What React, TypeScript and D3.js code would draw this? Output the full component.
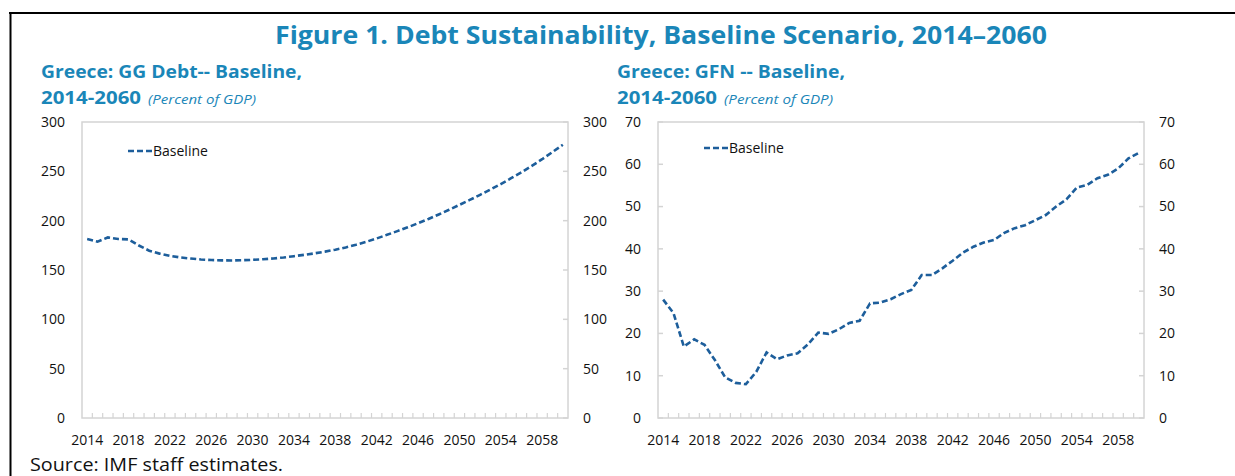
import React from 'react';
import * as d3 from 'd3';

// ---------- data ----------
const years: number[] = [
  2014, 2015, 2016, 2017, 2018, 2019, 2020, 2021, 2022, 2023,
  2024, 2025, 2026, 2027, 2028, 2029, 2030, 2031, 2032, 2033,
  2034, 2035, 2036, 2037, 2038, 2039, 2040, 2041, 2042, 2043,
  2044, 2045, 2046, 2047, 2048, 2049, 2050, 2051, 2052, 2053,
  2054, 2055, 2056, 2057, 2058, 2059, 2060,
];

// Greece: GG Debt -- Baseline (percent of GDP)
const ggDebt: number[] = [
  181.4, 178.8, 183.0, 181.4, 181.0, 174.8, 169.6, 166.6, 164.4, 162.7,
  161.6, 160.7, 160.1, 159.8, 159.7, 159.9, 160.3, 160.9, 161.7, 162.7,
  164.0, 165.4, 166.9, 168.6, 170.6, 172.9, 175.6, 178.6, 182.0, 185.7,
  189.4, 193.3, 197.4, 201.7, 206.3, 211.1, 216.0, 221.0, 226.2, 231.6,
  237.1, 243.0, 249.0, 255.5, 262.3, 269.5, 277.0,
];

// Greece: GFN -- Baseline (percent of GDP)
const gfn: number[] = [
  28.0, 24.8, 16.9, 18.6, 17.3, 13.7, 9.6, 8.3, 8.0, 10.9,
  15.5, 13.9, 14.8, 15.3, 17.4, 20.2, 19.9, 21.0, 22.5, 23.0,
  27.1, 27.3, 28.1, 29.3, 30.3, 33.8, 33.8, 35.4, 37.2, 39.1,
  40.5, 41.5, 42.1, 43.8, 44.9, 45.6, 46.8, 48.0, 50.0, 51.7,
  54.5, 55.1, 56.7, 57.5, 59.0, 61.4, 62.7,
];

const xTickLabels: string[] = [
  '2014', '2018', '2022', '2026', '2030', '2034', '2038', '2042', '2046', '2050', '2054', '2058',
];
const debtTicks: number[] = [0, 50, 100, 150, 200, 250, 300];
const gfnTicks: number[] = [0, 10, 20, 30, 40, 50, 60, 70];

// ---------- styles ----------
const BLUE = '#1a86b8';
const LINE = '#1d5e9b';
const FRAME = '#d4d4d4';
const TXT = '#111';
const FONT = "'Open Sans', 'Noto Sans', sans-serif";
const TICK_FS = 14;

type PanelProps = {
  x0: number;
  x1: number;
  values: number[];
  ticks: number[];
  yMax: number;
  leftMarks: boolean;
  rightMarks: boolean;
  legendX: number;
  legendY: number;
};

const TOP = 122;
const BOTTOM = 418;

function Panel({ x0, x1, values, ticks, yMax, leftMarks, rightMarks, legendX, legendY }: PanelProps) {
  const x = d3.scaleBand<string>().domain(years.map(String)).range([x0, x1]).padding(0);
  const y = d3.scaleLinear().domain([0, yMax]).range([BOTTOM, TOP]);
  const bw = x.bandwidth();
  const line = d3
    .line<number>()
    .x((_, i) => (x(String(years[i])) as number) + bw / 2)
    .y((d) => y(d));

  return (
    <g>
      {/* plot frame */}
      <rect x={x0} y={TOP} width={x1 - x0} height={BOTTOM - TOP} fill="none" stroke={FRAME} strokeWidth={1.5} />
      {/* y tick marks */}
      {ticks.map((t) => (
        <g key={'ym' + t}>
          {leftMarks && <line x1={x0} x2={x0 + 5} y1={y(t)} y2={y(t)} stroke={FRAME} strokeWidth={1.5} />}
          {rightMarks && <line x1={x1 - 5} x2={x1} y1={y(t)} y2={y(t)} stroke={FRAME} strokeWidth={1.5} />}
        </g>
      ))}
      {/* x tick marks at band boundaries */}
      {years.slice(1).map((yr) => {
        const xx = x(String(yr)) as number;
        return <line key={'xm' + yr} x1={xx} x2={xx} y1={BOTTOM} y2={BOTTOM - 5} stroke={FRAME} strokeWidth={1.2} />;
      })}
      {/* y labels left */}
      {ticks.map((t) => (
        <text key={'yl' + t} x={x0 - 17} y={y(t)} dy="0.35em" textAnchor="end" fontSize={TICK_FS} fill={TXT} fontFamily={FONT}>
          {t}
        </text>
      ))}
      {/* y labels right */}
      {ticks.map((t) => (
        <text key={'yr' + t} x={x1 + 15} y={y(t)} dy="0.35em" textAnchor="start" fontSize={TICK_FS} fill={TXT} fontFamily={FONT}>
          {t}
        </text>
      ))}
      {/* x labels */}
      {xTickLabels.map((lab) => (
        <text key={'xl' + lab} x={(x(lab) as number) + bw / 2} y={440} dy="0.35em" textAnchor="middle" fontSize={TICK_FS} fill={TXT} fontFamily={FONT}>
          {lab}
        </text>
      ))}
      {/* series */}
      <path d={line(values) || ''} fill="none" stroke={LINE} strokeWidth={2.6} strokeDasharray="6 3" />
      {/* legend */}
      <line x1={legendX} x2={legendX + 24} y1={legendY} y2={legendY} stroke={LINE} strokeWidth={2.6} strokeDasharray="6 3" />
      <text x={legendX + 25} y={legendY} dy="0.35em" fontSize={TICK_FS} fill={TXT} fontFamily={FONT}>
        Baseline
      </text>
    </g>
  );
}

export default function App() {
  return (
    <svg
      width={1235}
      height={476}
      viewBox="0 0 1235 476"
      style={{ position: 'absolute', left: 0, top: 0, background: '#fff' }}
    >
      <rect x={0} y={0} width={1235} height={476} fill="#fff" />
      {/* outer frame */}
      <line x1={9} x2={1235} y1={13} y2={13} stroke="#000" strokeWidth={2} />
      <line x1={10.5} x2={10.5} y1={12} y2={476} stroke="#000" strokeWidth={2} />

      {/* main title */}
      <text x={275} y={44} fontSize={25} fontWeight="bold" fill={BLUE} fontFamily={FONT} textLength={772} lengthAdjust="spacingAndGlyphs">
        Figure 1. Debt Sustainability, Baseline Scenario, 2014–2060
      </text>

      {/* left subtitle */}
      <text x={41} y={78} fontSize={17} fontWeight="bold" fill={BLUE} fontFamily={FONT} textLength={261} lengthAdjust="spacingAndGlyphs">
        Greece: GG Debt-- Baseline,
      </text>
      <text x={41} y={104} fontSize={18} fontWeight="bold" fill={BLUE} fontFamily={FONT} textLength={100} lengthAdjust="spacingAndGlyphs">
        2014-2060
      </text>
      <text x={148} y={104} fontSize={13.5} fontStyle="italic" fill={BLUE} fontFamily={FONT} textLength={108} lengthAdjust="spacingAndGlyphs">
        (Percent of GDP)
      </text>

      {/* right subtitle */}
      <text x={617} y={78} fontSize={17} fontWeight="bold" fill={BLUE} fontFamily={FONT} textLength={228} lengthAdjust="spacingAndGlyphs">
        Greece: GFN -- Baseline,
      </text>
      <text x={617} y={104} fontSize={18} fontWeight="bold" fill={BLUE} fontFamily={FONT} textLength={100} lengthAdjust="spacingAndGlyphs">
        2014-2060
      </text>
      <text x={724} y={104} fontSize={13.5} fontStyle="italic" fill={BLUE} fontFamily={FONT} textLength={109} lengthAdjust="spacingAndGlyphs">
        (Percent of GDP)
      </text>

      <Panel x0={82} x1={568} values={ggDebt} ticks={debtTicks} yMax={300} leftMarks={false} rightMarks={true} legendX={128} legendY={151} />
      <Panel x0={658} x1={1144} values={gfn} ticks={gfnTicks} yMax={70} leftMarks={true} rightMarks={true} legendX={704} legendY={148} />

      {/* source */}
      <text x={30} y={470.5} fontSize={18.5} fill={TXT} fontFamily={FONT} textLength={253} lengthAdjust="spacingAndGlyphs">
        Source: IMF staff estimates.
      </text>
    </svg>
  );
}
